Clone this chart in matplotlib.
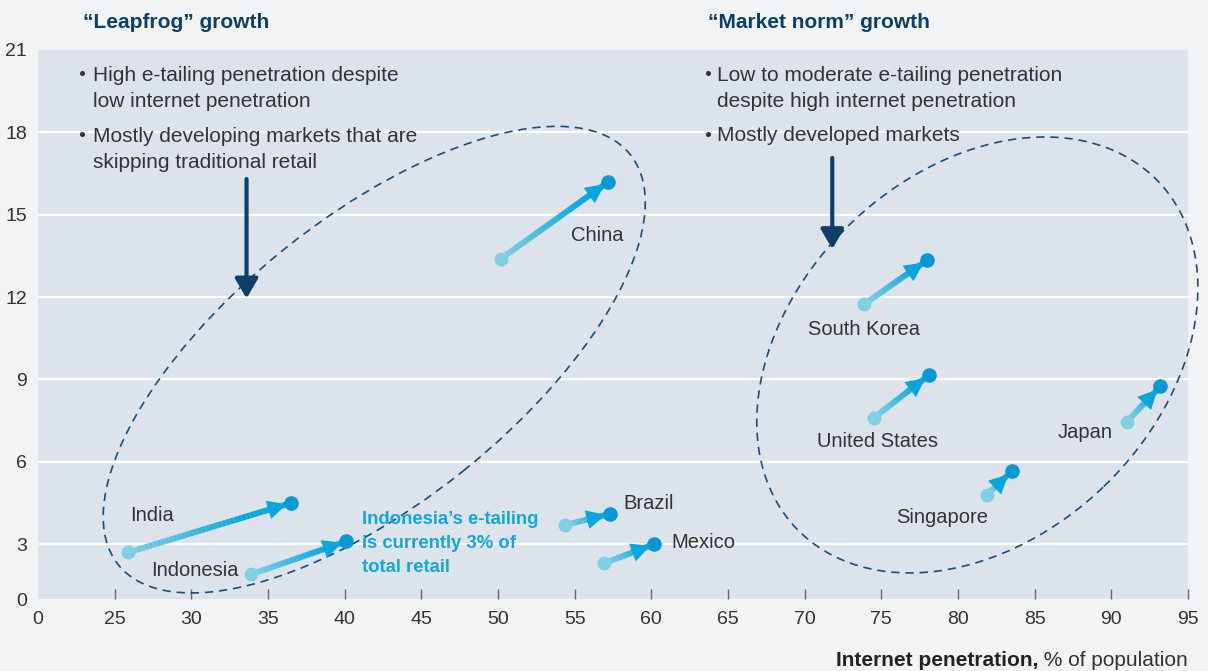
import numpy as np
import matplotlib
matplotlib.use('Agg')
import matplotlib.pyplot as plt
import matplotlib.transforms as mtransforms
from matplotlib.patches import Ellipse
from matplotlib.collections import LineCollection
from matplotlib.colors import to_rgb

plt.rcParams['font.family'] = ['Liberation Sans', 'DejaVu Sans']

# internet penetration (% of population) and e-tailing share, start -> end
countries = ['China', 'India', 'Indonesia', 'Brazil', 'Mexico',
             'South Korea', 'United States', 'Japan', 'Singapore']
net_start = [50.2, 25.9, 33.9, 54.4, 56.9, 73.9, 74.5, 91.0, 81.9]
net_end = [57.2, 36.5, 40.1, 57.3, 60.2, 78.0, 78.1, 93.2, 83.5]
etail_start = [13.4, 2.7, 1.9, 3.7, 2.3, 11.75, 7.6, 7.45, 4.8]
etail_end = [16.2, 4.5, 3.1, 4.1, 3.0, 13.35, 9.15, 8.75, 5.65]

# broken axes: first tick stands for 0
xticks = [20, 25, 30, 35, 40, 45, 50, 55, 60, 65, 70, 75, 80, 85, 90, 95]
xtick_labels = ['0'] + [str(v) for v in xticks[1:]]
yticks = [1, 3, 6, 9, 12, 15, 18, 21]
ytick_labels = ['0'] + [str(v) for v in yticks[1:]]

# label anchors (left edge, vertical centre), data coords
label_pos = {
    'China': (54.75, 14.25), 'India': (25.98, 4.06), 'Indonesia': (27.4, 2.05),
    'Brazil': (58.2, 4.49), 'Mexico': (61.33, 3.07), 'South Korea': (70.2, 10.8),
    'United States': (70.8, 6.75), 'Japan': (86.5, 7.05), 'Singapore': (75.95, 3.98),
}

FIG_BG = '#f1f3f5'
AX_BG = '#dce3ea'
NAVY = '#0d3f6a'
TXT = '#333333'
C_START = '#7fd0e3'
C_END = '#06a6df'
C_DOT = '#0598d6'

fig = plt.figure(figsize=(12.08, 6.71), dpi=100, facecolor=FIG_BG)
ax = fig.add_axes([38 / 1208, 72 / 671, 1150 / 1208, 549 / 671])
ax.set_facecolor(AX_BG)
ax.set_xlim(20, 95)
ax.set_ylim(1, 21)
for s in ax.spines.values():
    s.set_visible(False)

ax.set_xticks(xticks)
ax.set_xticklabels(xtick_labels)
ax.set_yticks(yticks)
ax.set_yticklabels(ytick_labels)
ax.tick_params(axis='x', direction='in', length=7, width=1, color='#666666',
               labelsize=14, labelcolor=TXT, pad=9)
ax.tick_params(axis='y', length=0, labelsize=14, labelcolor=TXT, pad=8)
ax.xaxis.get_major_ticks()[0].tick1line.set_visible(False)
for y in yticks[1:-1]:
    ax.axhline(y, color='white', lw=1.6, zorder=1)

# pixels per data unit, for the ellipses drawn in screen proportions
sx = 1150 / 75
sy = 549 / 20

def dashed_ellipse(cx, cy, a, b, ang):
    tr = mtransforms.Affine2D().scale(1 / sx, 1 / sy).translate(cx, cy) + ax.transData
    e = Ellipse((0, 0), 2 * a, 2 * b, angle=ang, fill=False, ec='#1a4d7a',
                lw=1.2, ls=(0, (5, 3.5)), transform=tr, clip_on=False, zorder=2)
    ax.add_patch(e)

dashed_ellipse(41.93, 9.72, 328, 142.5, 38.7)
dashed_ellipse(81.26, 9.89, 250.7, 182.5, 43.9)

# arrows: gradient shaft, head, dots
c0 = np.array(to_rgb(C_START))
c1 = np.array(to_rgb(C_END))
n = 40
t = np.linspace(0, 1, n + 1)
for i, name in enumerate(countries):
    x0, y0 = net_start[i], etail_start[i]
    x1, y1 = net_end[i], etail_end[i]
    xs = x0 + (x1 - x0) * t
    ys = y0 + (y1 - y0) * t
    segs = [[(xs[k], ys[k]), (xs[k + 1], ys[k + 1])] for k in range(n)]
    cols = [c0 + (c1 - c0) * min(1, (k + 0.5) / n * 1.4) for k in range(n)]
    ax.add_collection(LineCollection(segs, colors=cols, linewidths=4.3,
                                     capstyle='butt', zorder=3))
    ax.annotate('', xy=(x1, y1), xytext=(x0, y0),
                arrowprops=dict(arrowstyle='-|>,head_length=1.4,head_width=0.68',
                                mutation_scale=10, lw=0, fc=C_END, ec='none',
                                shrinkA=0, shrinkB=3), zorder=4)
    ax.plot(x0, y0, 'o', ms=10, color=C_START, mec='none', zorder=5)
    ax.plot(x1, y1, 'o', ms=10.5, color=C_DOT, mec='none', zorder=5)
    lx, ly = label_pos[name]
    ax.text(lx, ly, name, fontsize=14.5, color=TXT, ha='left', va='center', zorder=6)

# down arrows into the ellipses
for ax_x, y_top, y_tip in [(33.6, 16.3, 11.95), (71.8, 17.07, 13.75)]:
    ax.annotate('', xy=(ax_x, y_tip), xytext=(ax_x, y_top),
                arrowprops=dict(arrowstyle='-|>,head_length=1.2,head_width=0.7',
                                mutation_scale=10, lw=3, color=NAVY,
                                shrinkA=0, shrinkB=0), zorder=4)

# group titles
fig.text(83 / 1208, 1 - 22 / 671, '\u201cLeapfrog\u201d growth', fontsize=15,
         fontweight='bold', color=NAVY, ha='left', va='center')
fig.text(708 / 1208, 1 - 22 / 671, '\u201cMarket norm\u201d growth', fontsize=15,
         fontweight='bold', color=NAVY, ha='left', va='center')

# bullets
bullets = [
    (22.85, 23.56, 19.6, 'High e-tailing penetration despite\nlow internet penetration'),
    (22.85, 23.56, 17.38, 'Mostly developing markets that are\nskipping traditional retail'),
    (63.68, 64.27, 19.6, 'Low to moderate e-tailing penetration\ndespite high internet penetration'),
    (63.68, 64.27, 17.87, 'Mostly developed markets'),
]
for bx, tx, ty, s in bullets:
    nlines = s.count('\n') + 1
    ax.text(tx, ty, s, fontsize=15, color=TXT, ha='left', va='center',
            linespacing=1.42, zorder=6)
    first = ty + (nlines - 1) * 0.5 * 26 / sy
    ax.plot(bx, first + 0.08, 'o', ms=3.6, color=TXT, mec='none', zorder=6)

ax.text(41.11, 3.02, 'Indonesia\u2019s e-tailing\nis currently 3% of\ntotal retail',
        fontsize=13.3, fontweight='bold', color='#13a6dd', ha='left', va='center',
        linespacing=1.52, zorder=6)

# x axis title: bold part + regular part, right aligned to the axes edge
ty = (671 - 660) / 671
reg = fig.text(1188 / 1208, ty, ' % of population', fontsize=15, color=TXT,
               ha='right', va='center')
fig.canvas.draw()
bb = reg.get_window_extent()
fig.text(bb.x0 / fig.bbox.width, ty, 'Internet penetration,', fontsize=15,
         fontweight='bold', color='#222222', ha='right', va='center')

fig.savefig('out.png', dpi=100, facecolor=FIG_BG)
